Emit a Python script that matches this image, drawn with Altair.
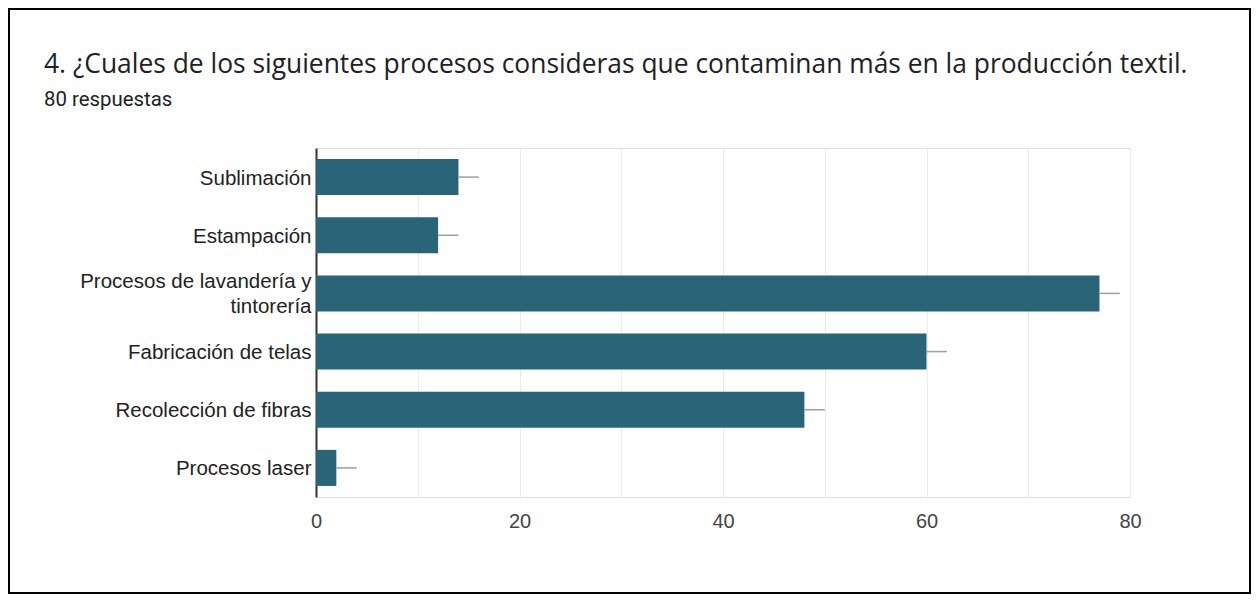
import altair as alt
import pandas as pd

title_text = "4. ¿Cuales de los siguientes procesos consideras que contaminan más en la producción textil."
subtitle_text = "80 respuestas"

categories = [
    "Sublimación",
    "Estampación",
    "Procesos de lavandería y tintorería",
    "Fabricación de telas",
    "Recolección de fibras",
    "Procesos laser",
]
values = [14, 12, 77, 60, 48, 2]
errors = [2, 2, 2, 2, 2, 2]
x_ticks = [0, 10, 20, 30, 40, 50, 60, 70, 80]

df = pd.DataFrame({"cat": categories, "val": values, "err": errors})
df["end"] = df["val"] + df["err"]

W, H = 814, 349
PL, PT, PR, PB = 308, 140, 121, 97

LONG = "Procesos de lavandería y tintorería"

y_enc = alt.Y(
    "cat:N",
    sort=categories,
    scale=alt.Scale(paddingInner=0.38, paddingOuter=0.19),
    axis=alt.Axis(
        title=None,
        ticks=False,
        grid=False,
        domain=True,
        domainColor="#333333",
        domainWidth=2,
        labelFont="Liberation Sans",
        labelFontSize=20.5,
        labelColor="#222222",
        labelPadding=5,
        labelLimit=400,
        labelLineHeight=25,
        labelOffset={"condition": {"test": f"datum.value == '{LONG}'", "value": -11.5}, "value": 1.5},
        labelExpr=f"datum.value == '{LONG}' ? ['Procesos de lavandería y', 'tintorería'] : datum.value",
    ),
)

x_scale = alt.Scale(domain=[0, 80], nice=False)

bars = alt.Chart(df).mark_bar(color="#2a6478").encode(
    y=y_enc,
    x=alt.X(
        "val:Q",
        scale=x_scale,
        axis=alt.Axis(
            title=None,
            values=x_ticks,
            ticks=False,
            domain=False,
            grid=True,
            gridColor="#ebebeb",
            gridWidth=1,
            labelFont="Liberation Sans",
            labelFontSize=20,
            labelColor="#444444",
            labelPadding=14,
            labelFlush=False,
            labelExpr="datum.value % 20 == 0 ? datum.label : ''",
        ),
    ),
)

errs = alt.Chart(df).mark_rule(color="#9e9e9e", strokeWidth=1.5).encode(
    y=alt.Y("cat:N", sort=categories),
    x=alt.X("val:Q", scale=x_scale),
    x2="end:Q",
)

tdf = pd.DataFrame({"t": [title_text], "s": [subtitle_text]})
title = alt.Chart(tdf).mark_text(
    align="left", baseline="alphabetic", font="Open Sans", fontSize=26.4, color="#202124"
).encode(text="t:N", x=alt.value(36 - PL), y=alt.value(65 - PT))
subtitle = alt.Chart(tdf).mark_text(
    align="left", baseline="alphabetic", font="Roboto", fontSize=20.4, color="#202124"
).encode(text="s:N", x=alt.value(36 - PL), y=alt.value(98 - PT))

border = alt.Chart(tdf).mark_rect(
    fill=None, stroke="#000000", strokeWidth=2
).encode(
    x=alt.value(1 - PL), x2=alt.value(1242 - PL),
    y=alt.value(1 - PT), y2=alt.value(585 - PT),
)

chart = alt.layer(bars, errs, title, subtitle, border).properties(
    width=W,
    height=H,
    padding={"left": PL, "top": PT, "right": PR, "bottom": PB},
    autosize=alt.AutoSizeParams(type="none"),
).configure_view(stroke="#ebebeb").configure(background="white")

chart.save("out.html", embed_options={"renderer": "svg", "actions": False})
